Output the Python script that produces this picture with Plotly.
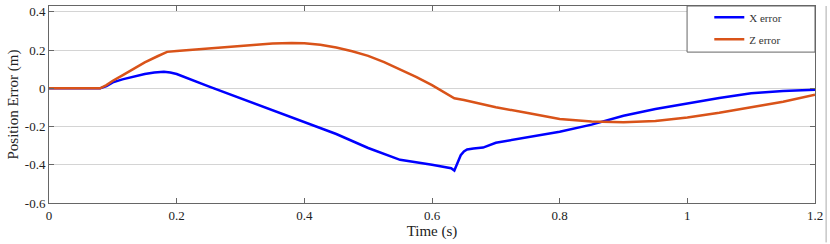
import plotly.graph_objects as go

t_x = [0, 0.08, 0.09, 0.1, 0.115, 0.13, 0.15, 0.165, 0.18, 0.19, 0.2, 0.25, 0.3, 0.35, 0.4, 0.45, 0.5,
       0.55, 0.6, 0.62, 0.63, 0.635, 0.64, 0.645, 0.65, 0.655, 0.665, 0.68, 0.7, 0.75, 0.8, 0.85, 0.9,
       0.95, 1.0, 1.05, 1.1, 1.15, 1.2]
x_err = [0, 0, 0.012, 0.031, 0.047, 0.06, 0.075, 0.083, 0.087, 0.083, 0.075, 0.01, -0.052, -0.117, -0.178,
         -0.239, -0.312, -0.374, -0.40, -0.41, -0.418, -0.43, -0.39, -0.35, -0.33, -0.32, -0.315, -0.31,
         -0.285, -0.257, -0.227, -0.19, -0.143, -0.108, -0.077, -0.05, -0.026, -0.014, -0.007]

t_z = [0, 0.08, 0.09, 0.1, 0.115, 0.13, 0.15, 0.17, 0.185, 0.2, 0.25, 0.3, 0.35, 0.38, 0.4, 0.425, 0.45,
       0.475, 0.5, 0.525, 0.55, 0.575, 0.6, 0.62, 0.635, 0.65, 0.7, 0.75, 0.8, 0.85, 0.9, 0.95, 1.0,
       1.05, 1.1, 1.15, 1.2]
z_err = [0, 0, 0.017, 0.04, 0.068, 0.097, 0.136, 0.168, 0.191, 0.196, 0.209, 0.222, 0.235, 0.238, 0.236,
         0.228, 0.214, 0.194, 0.17, 0.137, 0.10, 0.06, 0.017, -0.02, -0.052, -0.061, -0.099, -0.129,
         -0.16, -0.174, -0.178, -0.171, -0.152, -0.128, -0.099, -0.07, -0.033]

x_ticks = [0, 0.2, 0.4, 0.6, 0.8, 1, 1.2]
x_labels = ["0", "0.2", "0.4", "0.6", "0.8", "1", "1.2"]
y_ticks = [-0.6, -0.4, -0.2, 0, 0.2, 0.4]
y_labels = ["-0.6", "-0.4", "-0.2", "0", "0.2", "0.4"]

font = "Times New Roman"

fig = go.Figure()
fig.add_trace(go.Scatter(x=t_x, y=x_err, mode="lines", name="X error", legend="legend",
                         line=dict(color="#0000FF", width=2.5)))
fig.add_trace(go.Scatter(x=t_z, y=z_err, mode="lines", name="Z error", legend="legend2",
                         line=dict(color="#D95319", width=2.5)))

leg_common = dict(xanchor="left", yanchor="middle", bgcolor="rgba(0,0,0,0)", borderwidth=0,
                  font=dict(family=font, size=11, color="#333"), itemwidth=30)

fig.update_layout(
    width=830, height=244,
    margin=dict(l=49, r=15, t=6, b=41, autoexpand=False),
    paper_bgcolor="white", plot_bgcolor="white",
    font=dict(family=font, size=13, color="#222"),
    showlegend=True,
    legend=dict(x=0.862, y=0.943, **leg_common),
    legend2=dict(x=0.862, y=0.831, **leg_common),
    shapes=[
        dict(type="rect", xref="paper", yref="paper", x0=0.833, x1=1, y0=0.766, y1=1,
             line=dict(color="#666", width=1), fillcolor="white", layer="above"),
        dict(type="line", xref="paper", yref="paper", x0=1.0145, x1=1.0145, y0=-0.2, y1=1.0,
             line=dict(color="#aaa", width=1)),
    ],
)
fig.update_xaxes(range=[0, 1.2], tickvals=x_ticks, ticktext=x_labels, automargin=False,
                 tickfont=dict(family=font, size=13, color="#222"),
                 showgrid=False, zeroline=False, showline=True, linecolor="#666", linewidth=1,
                 mirror="ticks", ticks="inside", ticklen=5, tickcolor="#666",
                 title=dict(text="Time (s)", font=dict(family=font, size=15, color="#222"), standoff=0))
fig.update_yaxes(range=[-0.6, 0.431], tickvals=y_ticks, ticktext=y_labels, automargin=False,
                 tickfont=dict(family=font, size=13, color="#222"),
                 showgrid=True, gridcolor="#d4d4d4", gridwidth=1, zeroline=False,
                 showline=True, linecolor="#666", linewidth=1,
                 mirror="ticks", ticks="inside", ticklen=5, tickcolor="#666",
                 title=dict(text="Position Error (m)", font=dict(family=font, size=15, color="#222"), standoff=2))

fig.write_html("out.html", config={"displayModeBar": False},
               post_script="document.body.style.margin='0';document.body.style.padding='0';")
